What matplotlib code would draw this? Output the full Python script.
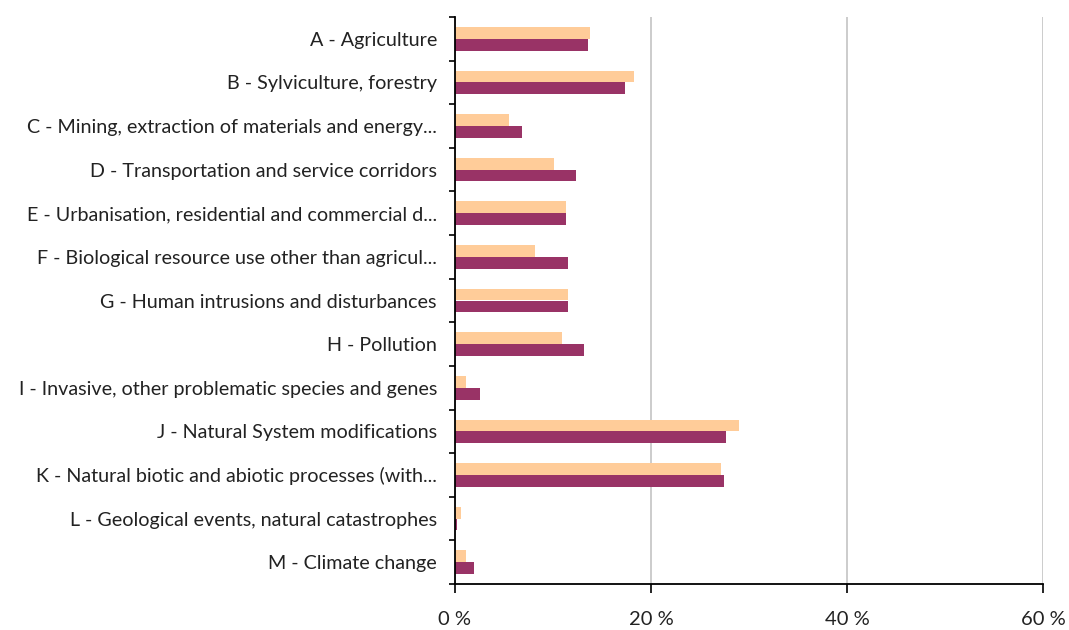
import matplotlib
matplotlib.use("Agg")
import matplotlib.pyplot as plt
import numpy as np

categories = [
    "A - Agriculture",
    "B - Sylviculture, forestry",
    "C - Mining, extraction of materials and energy...",
    "D - Transportation and service corridors",
    "E - Urbanisation, residential and commercial d...",
    "F - Biological resource use other than agricul...",
    "G - Human intrusions and disturbances",
    "H - Pollution",
    "I - Invasive, other problematic species and genes",
    "J - Natural System modifications",
    "K - Natural biotic and abiotic processes (with...",
    "L - Geological events, natural catastrophes",
    "M - Climate change",
]
series_light = [13.8, 18.3, 5.5, 10.1, 11.3, 8.2, 11.5, 10.9, 1.1, 29.0, 27.1, 0.65, 1.1]
series_dark = [13.6, 17.3, 6.8, 12.3, 11.35, 11.5, 11.5, 13.2, 2.5, 27.7, 27.4, 0.25, 1.9]
xticks = [0, 20, 40, 60]
xtick_labels = ["0 %", "20 %", "40 %", "60 %"]

plt.rcParams['font.family'] = ['Lato', 'DejaVu Sans']

fig = plt.figure(figsize=(10.69, 6.30), dpi=100)
ax = fig.add_axes([455/1069, 1 - 584/630, (1043 - 455)/1069, (584 - 17)/630])

y = np.arange(len(categories))
h = 0.27
ax.barh(y - h/2, series_light, height=h, color="#FFCC99", edgecolor="none", zorder=3)
ax.barh(y + h/2, series_dark, height=h, color="#993366", edgecolor="none", zorder=3)

ax.set_xlim(0, 60)
ax.set_ylim(len(categories) - 0.5, -0.5)

ax.set_xticks(xticks)
ax.set_xticklabels(xtick_labels, fontsize=14.5, color="#222222")
ax.tick_params(axis='x', length=6.5, width=1.2, pad=13, direction='out')

ax.set_yticks(y)
ax.set_yticklabels(categories, fontsize=14.2, color="#222222")
ax.tick_params(axis='y', which='major', length=0, pad=13)
ax.set_yticks(np.arange(-0.5, len(categories), 1), minor=True)
ax.tick_params(axis='y', which='minor', length=4.3, width=1.2, direction='out')

ax.grid(axis='x', color="#C4C4C4", linewidth=1.2, zorder=0)
ax.spines['top'].set_visible(False)
ax.spines['right'].set_visible(False)
ax.spines['left'].set_linewidth(1.3)
ax.spines['bottom'].set_linewidth(1.3)
ax.spines['left'].set_zorder(4)

fig.savefig("out.png", dpi=100)
